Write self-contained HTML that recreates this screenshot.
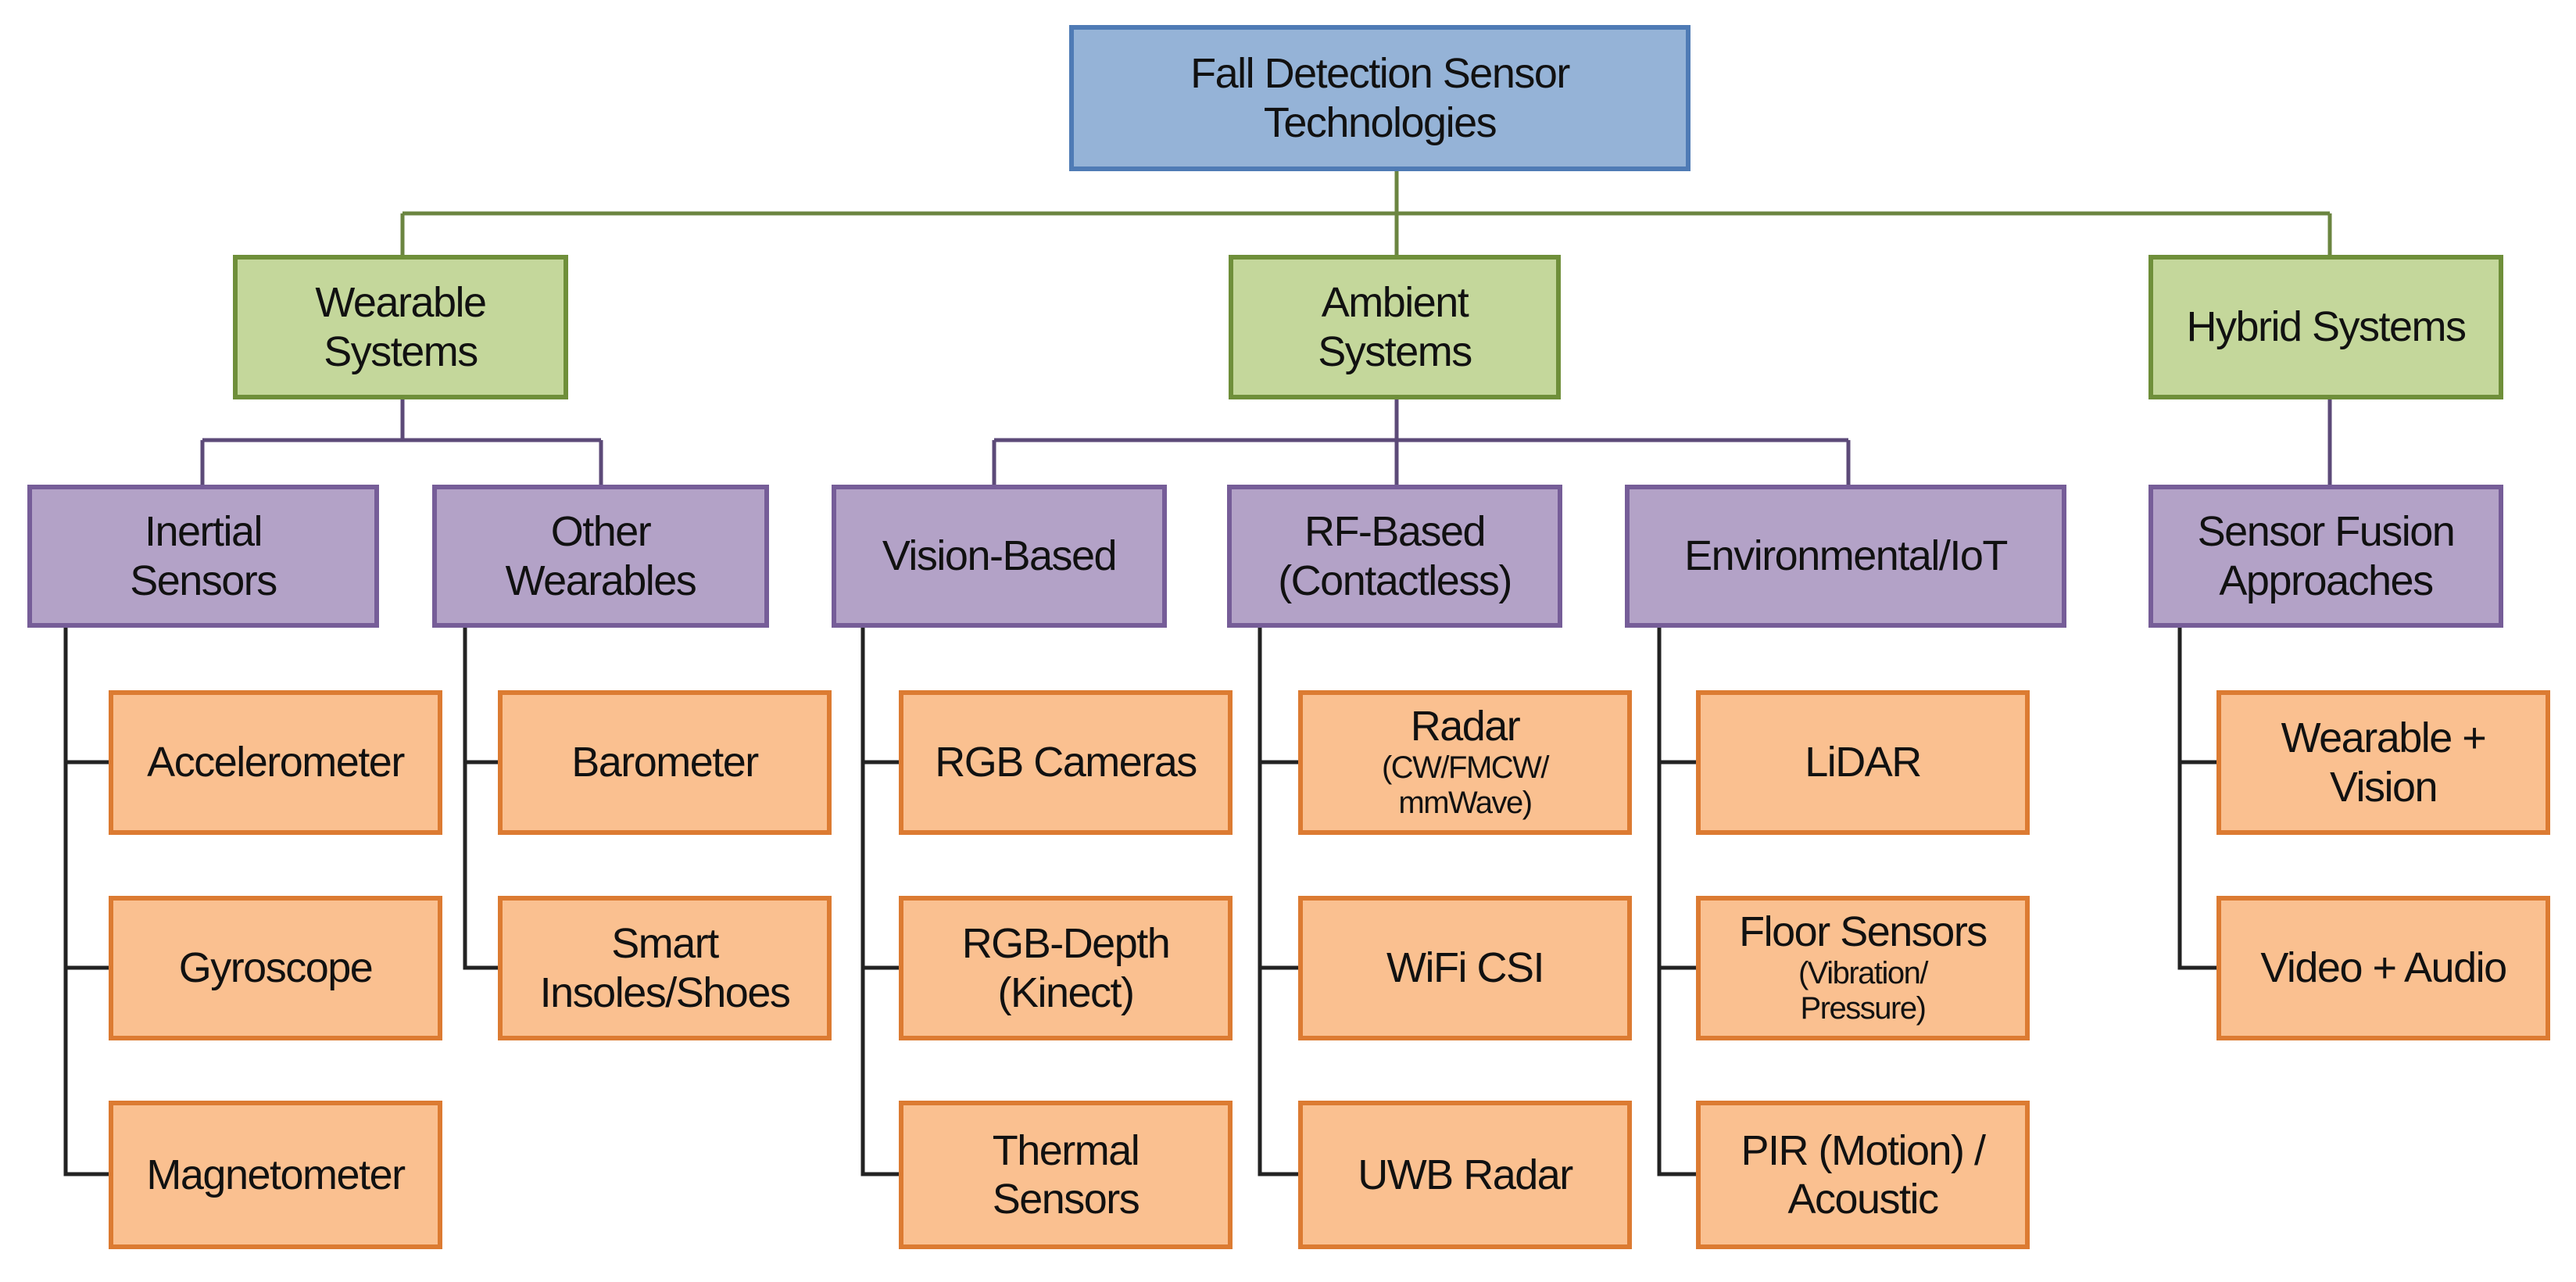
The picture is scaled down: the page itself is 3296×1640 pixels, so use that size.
<!DOCTYPE html>
<html><head><meta charset="utf-8"><style>
body{margin:0;width:3296px;height:1640px;background:#fff;position:relative;overflow:hidden;font-family:"Liberation Sans",sans-serif;}
.b{position:absolute;box-sizing:border-box;border:6px solid;display:flex;align-items:center;justify-content:center;text-align:center;color:#111;font-size:54px;line-height:1.15;letter-spacing:-1.5px}
.r{background:#95b3d7;border-color:#4f7bb5}
.g{background:#c4d79b;border-color:#6f8f3a}
.p{background:#b3a2c7;border-color:#765d98}
.o{background:#fac090;border-color:#dc7b32}
.s{font-size:40px;line-height:1.12;display:inline-block}
svg{position:absolute;left:0;top:0}
</style></head><body>
<svg width="3296" height="1640">
<g fill="none" stroke-width="5">
<path stroke="#6b8540" d="M1787 219V273M515 273H2981M515 273V326M1787 273V326M2981 273V326"/>
<path stroke="#5c4a78" d="M515 511V563M259 563H769M259 563V620M769 563V620M1787 511V563M1272 563H2365M1272 563V620M1787 563V620M2365 563V620M2981 511V620"/>
<path stroke="#222" d="M84 803V1502H139M84 975H139M84 1238H139M595 803V1238H637M595 975H637M1104 803V1502H1150M1104 975H1150M1104 1238H1150M1612 803V1502H1661M1612 975H1661M1612 1238H1661M2123 803V1502H2170M2123 975H2170M2123 1238H2170M2789 803V1238H2836M2789 975H2836"/>
</g></svg>
<div class="b r" style="left:1368px;top:32px;width:795px;height:187px">Fall Detection Sensor<br>Technologies</div>
<div class="b g" style="left:298px;top:326px;width:429px;height:185px">Wearable<br>Systems</div>
<div class="b g" style="left:1572px;top:326px;width:425px;height:185px">Ambient<br>Systems</div>
<div class="b g" style="left:2749px;top:326px;width:454px;height:185px">Hybrid Systems</div>
<div class="b p" style="left:35px;top:620px;width:450px;height:183px">Inertial<br>Sensors</div>
<div class="b p" style="left:553px;top:620px;width:431px;height:183px">Other<br>Wearables</div>
<div class="b p" style="left:1064px;top:620px;width:429px;height:183px">Vision-Based</div>
<div class="b p" style="left:1570px;top:620px;width:429px;height:183px">RF-Based<br>(Contactless)</div>
<div class="b p" style="left:2079px;top:620px;width:565px;height:183px">Environmental/IoT</div>
<div class="b p" style="left:2749px;top:620px;width:454px;height:183px">Sensor Fusion<br>Approaches</div>

<div class="b o" style="left:139px;top:883px;width:427px;height:185px">Accelerometer</div>
<div class="b o" style="left:139px;top:1146px;width:427px;height:185px">Gyroscope</div>
<div class="b o" style="left:139px;top:1408px;width:427px;height:190px">Magnetometer</div>
<div class="b o" style="left:637px;top:883px;width:427px;height:185px">Barometer</div>
<div class="b o" style="left:637px;top:1146px;width:427px;height:185px">Smart<br>Insoles/Shoes</div>
<div class="b o" style="left:1150px;top:883px;width:427px;height:185px">RGB Cameras</div>
<div class="b o" style="left:1150px;top:1146px;width:427px;height:185px">RGB-Depth<br>(Kinect)</div>
<div class="b o" style="left:1150px;top:1408px;width:427px;height:190px">Thermal<br>Sensors</div>
<div class="b o" style="left:1661px;top:883px;width:427px;height:185px"><div>Radar<br><span class="s">(CW/FMCW/<br>mmWave)</span></div></div>
<div class="b o" style="left:1661px;top:1146px;width:427px;height:185px">WiFi CSI</div>
<div class="b o" style="left:1661px;top:1408px;width:427px;height:190px">UWB Radar</div>
<div class="b o" style="left:2170px;top:883px;width:427px;height:185px">LiDAR</div>
<div class="b o" style="left:2170px;top:1146px;width:427px;height:185px"><div>Floor Sensors<br><span class="s">(Vibration/<br>Pressure)</span></div></div>
<div class="b o" style="left:2170px;top:1408px;width:427px;height:190px">PIR (Motion) /<br>Acoustic</div>
<div class="b o" style="left:2836px;top:883px;width:427px;height:185px">Wearable +<br>Vision</div>
<div class="b o" style="left:2836px;top:1146px;width:427px;height:185px">Video + Audio</div>
</body></html>
